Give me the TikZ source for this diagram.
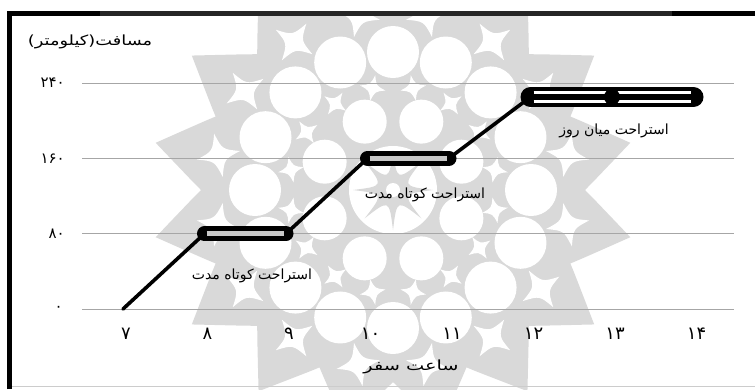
\documentclass[tikz,border=0pt]{standalone}
\usepackage{fontspec}
\TeXXeTstate=1
\newfontfamily\fa[Script=Arabic]{DejaVu Sans}
\tikzset{
  gridline/.style={draw=black!35, line width=0.9pt},
  dataline/.style={draw=black, line width=3.6pt, line cap=round, line join=round},
  restbox/.style={draw=black, line width=15pt, line cap=round},
  restfill/.style={draw=black!22, line width=5pt},
  ylbl/.style={font=\fa\fontsize{15}{17}\selectfont, inner sep=0pt, anchor=east},
  xlbl/.style={font=\fa\fontsize{18}{20}\selectfont, inner sep=0pt},
  txtlbl/.style={font=\fa\fontsize{14}{16}\selectfont, inner sep=0pt},
  wmfill/.style={fill=black!15},
  wmhole/.style={fill=white},
}
\begin{document}
\begin{tikzpicture}[x=1pt,y=-1pt]
\useasboundingbox (0,0) rectangle (755,389);
% watermark (simplified rosette)
\begin{scope}
  \clip (12,16) rectangle (755,389);
  \begin{scope}[shift={(393,190)}]
    \fill[wmfill] (11.25:242)
      \foreach \k in {0,...,15}{
        .. controls ({11.25+22.5*\k+9}:200) .. ({22.5+22.5*\k}:192)
        .. controls ({22.5+22.5*\k+2.25}:200) .. ({33.75+22.5*\k}:242)
      } -- cycle;
    \foreach \k in {0,...,15}{
      \fill[wmhole] ({22.5*\k}:138) circle (26);
      \begin{scope}[shift={({11.25+22.5*\k}:178)}, rotate={11.25+22.5*\k}]
        \fill[wmhole] (22,0) .. controls (5,5) .. (0,22) .. controls (-5,5) .. (-22,0)
          .. controls (-5,-5) .. (0,-22) .. controls (5,-5) .. cycle;
      \end{scope}
      \begin{scope}[shift={({11.25+22.5*\k}:104)}, rotate={11.25+22.5*\k}]
        \fill[wmhole] (13,0) .. controls (3,3) .. (0,13) .. controls (-3,3) .. (-13,0)
          .. controls (-3,-3) .. (0,-13) .. controls (3,-3) .. cycle;
      \end{scope}
    }
    \foreach \k in {0,...,7}{
      \fill[wmhole] ({22.5+45*\k}:74) circle (22);
    }
    \fill[wmhole] (0,0) circle (44);
    \fill[wmfill] (0:40)
      \foreach \k in {0,...,7}{
        .. controls ({45*\k+22.5}:10) .. ({45*\k+45}:40)
      } -- cycle;
    \fill[wmhole] (0,0) circle (7);
  \end{scope}
\end{scope}
% frame
\draw[black!20, line width=1pt] (10,386) -- (755,386);
\draw[black, line width=5pt] (9.5,389) -- (9.5,13.5) -- (100,13.5);
\draw[black!85, line width=5pt] (100,13.5) -- (672,13.5);
\draw[black, line width=5pt] (672,13.5) -- (755,13.5);
% gridlines
\foreach \yy in {83,158.3,233.7,309}{
  \draw[gridline] (82.3,\yy) -- (734.3,\yy);
}
% y labels
\node[ylbl] (y240) at (65,83) {۲۴۰};
\node[ylbl] (y160) at (65,158.3) {۱۶۰};
\node[ylbl] (y80)  at (65,233.7) {۸۰};
\node[ylbl] (y0)   at (63,309) {۰};
% x labels
\foreach \k/\lab in {0/۷,1/۸,2/۹,3/۱۰,4/۱۱,5/۱۲,6/۱۳,7/۱۴}{
  \node[xlbl] (x\k) at ({126+81.5*\k},334) {\lab};
}
% axis titles
\node[txtlbl] (ytitle) at (90,42) {\scalebox{1.27}[1]{\beginR مسافت(کیلومتر)\endR}};
\node[txtlbl] (xtitle) at (411,367) {\scalebox{1.38}[1]{\beginR ساعت سفر\endR}};
% data points
\coordinate (p7)  at (123,309);
\coordinate (p8)  at (204.5,233.7);
\coordinate (p9)  at (286,233.7);
\coordinate (p10) at (367.5,158.3);
\coordinate (p11) at (449,158.3);
\coordinate (p12) at (530.5,97);
\coordinate (p13) at (612,97);
\coordinate (p14) at (693.5,97);
\draw[dataline] (p7) -- (p8);
\draw[dataline] (p9) -- (p10);
\draw[dataline] (p11) -- (p12);
% rest boxes
\draw[restbox] (p8) -- (p9);
\draw[restfill] ([xshift=2pt]p8) -- ([xshift=-2pt]p9);
\draw[restbox] (p10) -- (p11);
\draw[restfill] ([xshift=2pt]p10) -- ([xshift=-2pt]p11);
\draw[restbox, line width=20pt] (p12) -- (p14);
\draw[white, line width=2.4pt] ([shift={(3,-4.5)}]p12) -- ([shift={(-3,-4.5)}]p14);
\draw[white, line width=2.4pt] ([shift={(3,4.5)}]p12) -- ([shift={(-3,4.5)}]p14);
\fill[black] (p13) circle (8pt);
% labels
\node[txtlbl] (r1) at (252,276) {\beginR استراحت کوتاه مدت\endR};
\node[txtlbl] (r2) at (425,195) {\beginR استراحت کوتاه مدت\endR};
\node[txtlbl] (r3) at (614,131) {\beginR استراحت میان روز\endR};
\end{tikzpicture}
\end{document}
